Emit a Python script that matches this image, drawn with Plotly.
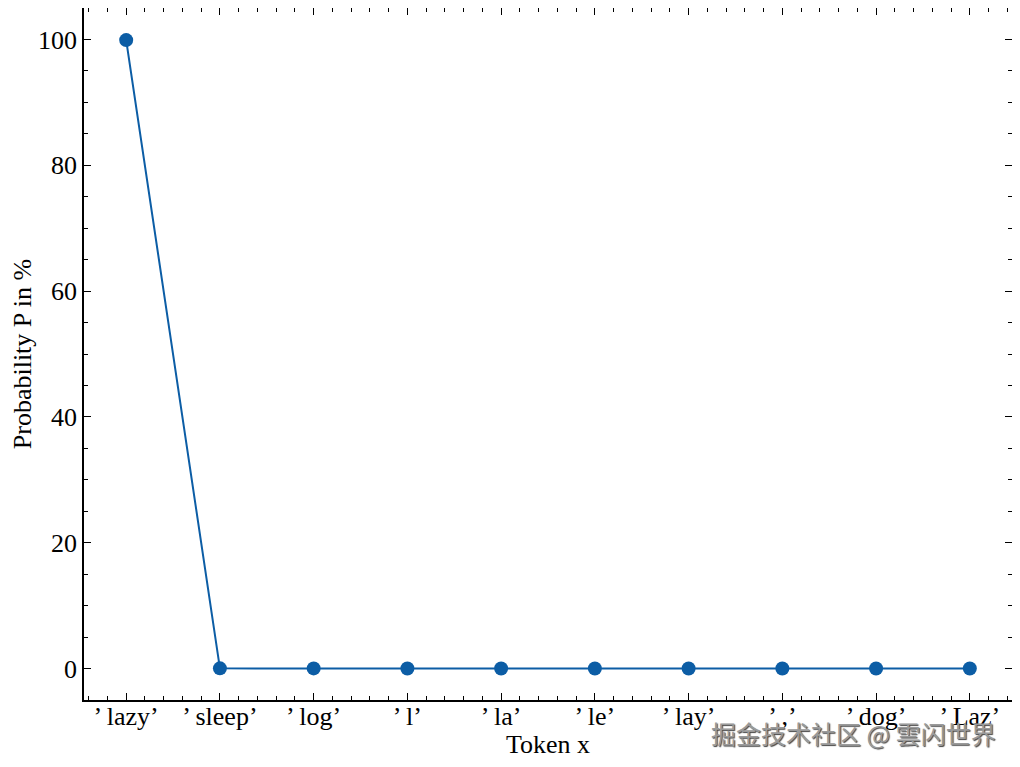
import plotly.graph_objects as go

tokens = ["’ lazy’", "’ sleep’", "’ log’", "’ l’", "’ la’", "’ le’", "’ lay’", "’ ,’", "’ dog’", "’ Laz’"]
probabilities = [99.9, 0.03, 0.02, 0.01, 0.01, 0.01, 0.01, 0.01, 0.005, 0.005]
y_ticks = [0, 20, 40, 60, 80, 100]

positions = list(range(len(tokens)))
FONT = "Liberation Serif"
BLUE = "#0C5DA5"
FS = 26

fig = go.Figure()
fig.add_trace(go.Scatter(
    x=positions, y=probabilities, mode="lines+markers",
    line=dict(color=BLUE, width=2),
    marker=dict(color=BLUE, size=14),
    showlegend=False,
))

axis_common = dict(
    showline=True, linecolor="black", linewidth=1.5, mirror="allticks",
    ticks="inside", ticklen=7, tickwidth=1.2, tickcolor="black",
    showgrid=False, zeroline=False, automargin=False,
    tickfont=dict(family=FONT, size=FS, color="black"),
)

fig.update_xaxes(
    **axis_common,
    range=[-0.45, 9.45],
    tickmode="array", tickvals=positions, ticktext=tokens,
    ticklabelstandoff=-8,
    minor=dict(ticks="inside", ticklen=4, tickwidth=1, tickcolor="black", dtick=0.2, tick0=0, showgrid=False),
    title=dict(text="Token x", font=dict(family=FONT, size=FS, color="black"), standoff=2),
)
fig.update_yaxes(
    **axis_common,
    range=[-5, 105],
    tickmode="array", tickvals=y_ticks,
    minor=dict(ticks="inside", ticklen=4, tickwidth=1, tickcolor="black", dtick=5, tick0=0, showgrid=False),
    title=dict(text="Probability P in %", font=dict(family=FONT, size=FS, color="black"), standoff=12),
)

fig.add_annotation(
    text="掘金技术社区 @ 雲闪世界", xref="paper", yref="paper",
    x=0.985, y=-0.048, xanchor="right", yanchor="middle", showarrow=False,
    font=dict(family="Noto Sans CJK SC", size=25, color="#9a9a9a", shadow="1px 1px 1px #444"),
)

fig.update_layout(
    width=1004, height=751,
    margin=dict(l=76, r=0, t=0, b=59, pad=0),
    paper_bgcolor="white", plot_bgcolor="white",
)

fig.write_html("out.html")
